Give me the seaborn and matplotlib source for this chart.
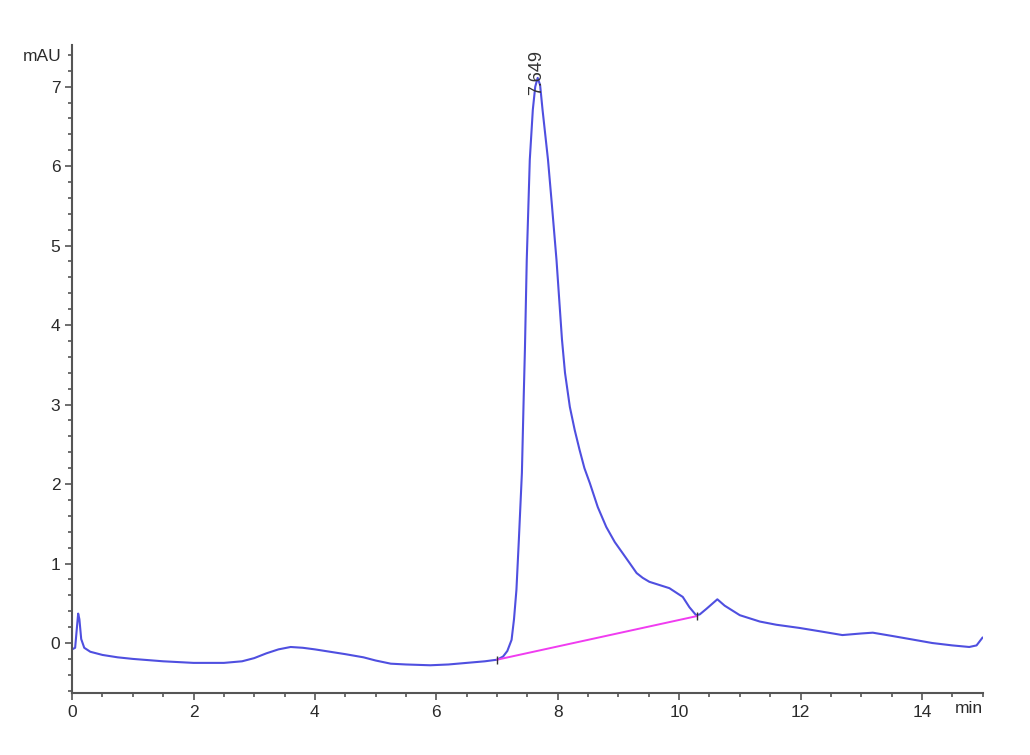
import numpy as np
import pandas as pd
import matplotlib
matplotlib.use("Agg")
import matplotlib.pyplot as plt
import seaborn as sns
from matplotlib.ticker import MultipleLocator

# chromatogram trace (time in min, signal in mAU)
time_min = [0.00, 0.05, 0.08, 0.10, 0.12, 0.15, 0.20, 0.30, 0.50, 0.75,
            1.00, 1.50, 2.00, 2.50, 2.80, 3.00, 3.20, 3.40, 3.60, 3.80,
            4.00, 4.25, 4.50, 4.80, 5.00, 5.25, 5.50, 5.90, 6.20, 6.50,
            6.80, 7.00, 7.10, 7.17, 7.24, 7.28, 7.32, 7.36, 7.41, 7.44,
            7.46, 7.49, 7.54, 7.59, 7.63, 7.67, 7.71, 7.75, 7.84, 7.90,
            7.98, 8.07, 8.12, 8.20, 8.28, 8.36, 8.44, 8.53, 8.66, 8.80,
            8.94, 9.07, 9.19, 9.30, 9.40, 9.51, 9.84, 10.06, 10.17, 10.28,
            10.34, 10.45, 10.63, 10.75, 11.00, 11.33, 11.60, 11.98, 12.30, 12.69,
            13.00, 13.19, 13.50, 13.80, 14.17, 14.50, 14.78, 14.90, 15.00]
signal_mau = [-0.08, -0.06, 0.20, 0.37, 0.30, 0.05, -0.06, -0.11, -0.15, -0.18,
              -0.20, -0.23, -0.25, -0.25, -0.23, -0.19, -0.13, -0.08, -0.05, -0.06,
              -0.08, -0.11, -0.14, -0.18, -0.22, -0.26, -0.27, -0.28, -0.27, -0.25,
              -0.23, -0.21, -0.17, -0.10, 0.04, 0.30, 0.67, 1.30, 2.14, 3.10,
              3.70, 4.82, 6.08, 6.71, 7.00, 7.11, 7.02, 6.71, 6.08, 5.55,
              4.82, 3.82, 3.40, 2.97, 2.68, 2.43, 2.20, 2.01, 1.71, 1.46,
              1.27, 1.13, 1.00, 0.88, 0.82, 0.77, 0.69, 0.58, 0.45, 0.35,
              0.36, 0.43, 0.55, 0.47, 0.35, 0.27, 0.23, 0.19, 0.15, 0.10,
              0.12, 0.13, 0.09, 0.05, 0.00, -0.03, -0.05, -0.03, 0.07]

# integration baseline of the main peak
baseline_t = [7.00, 10.30]
baseline_y = [-0.21, 0.34]

peak_rt = 7.649
peak_label = "7.649"

trace = pd.DataFrame({"time": time_min, "signal": signal_mau})

sns.set_style("ticks")
plt.rcParams['font.family'] = ['Liberation Sans Narrow', 'Liberation Sans', 'DejaVu Sans']

fig = plt.figure(figsize=(10.3, 7.55), dpi=100)
ax = fig.add_axes([0.070, 0.082, 0.884, 0.858])

# main signal trace
sns.lineplot(data=trace, x="time", y="signal", color="#4f4fe0", linewidth=1.5, ax=ax)

# baseline drawn under the peak
sns.lineplot(x=baseline_t, y=baseline_y, color="#f03cf0", linewidth=1.4, ax=ax)
ax.plot(baseline_t, baseline_y, linestyle="none", marker="|", markersize=6,
        color="#333333", markeredgewidth=1)

# retention time label above the peak
ax.text(peak_rt, 6.9, peak_label, rotation=90, ha="center", va="bottom",
        fontsize=13, color="#333333")

ax.set_xlim(0, 15)
ax.set_ylim(-0.63, 7.52)
ax.xaxis.set_major_locator(MultipleLocator(2))
ax.xaxis.set_minor_locator(MultipleLocator(0.5))
ax.yaxis.set_major_locator(MultipleLocator(1))
ax.yaxis.set_minor_locator(MultipleLocator(0.2))
ax.tick_params(which="major", direction="out", length=5, width=1.2,
               color="#555555", labelsize=12.5, labelcolor="#2a2a2a")
ax.tick_params(which="minor", direction="out", length=3, width=1.2, color="#555555")
ax.set_xlabel("")
ax.set_ylabel("")

sns.despine(ax=ax)
for side in ["left", "bottom"]:
    ax.spines[side].set_color("#555555")
    ax.spines[side].set_linewidth(1.5)

# axis unit labels in the corners
ax.text(-0.012, 7.38, "mAU", transform=ax.get_yaxis_transform(), ha="right",
        va="center", fontsize=12.5, color="#2a2a2a")
ax.text(15.0, -0.012, "min", transform=ax.get_xaxis_transform(), ha="right",
        va="top", fontsize=12.5, color="#2a2a2a", clip_on=False)

fig.savefig("out.png", dpi=100)
